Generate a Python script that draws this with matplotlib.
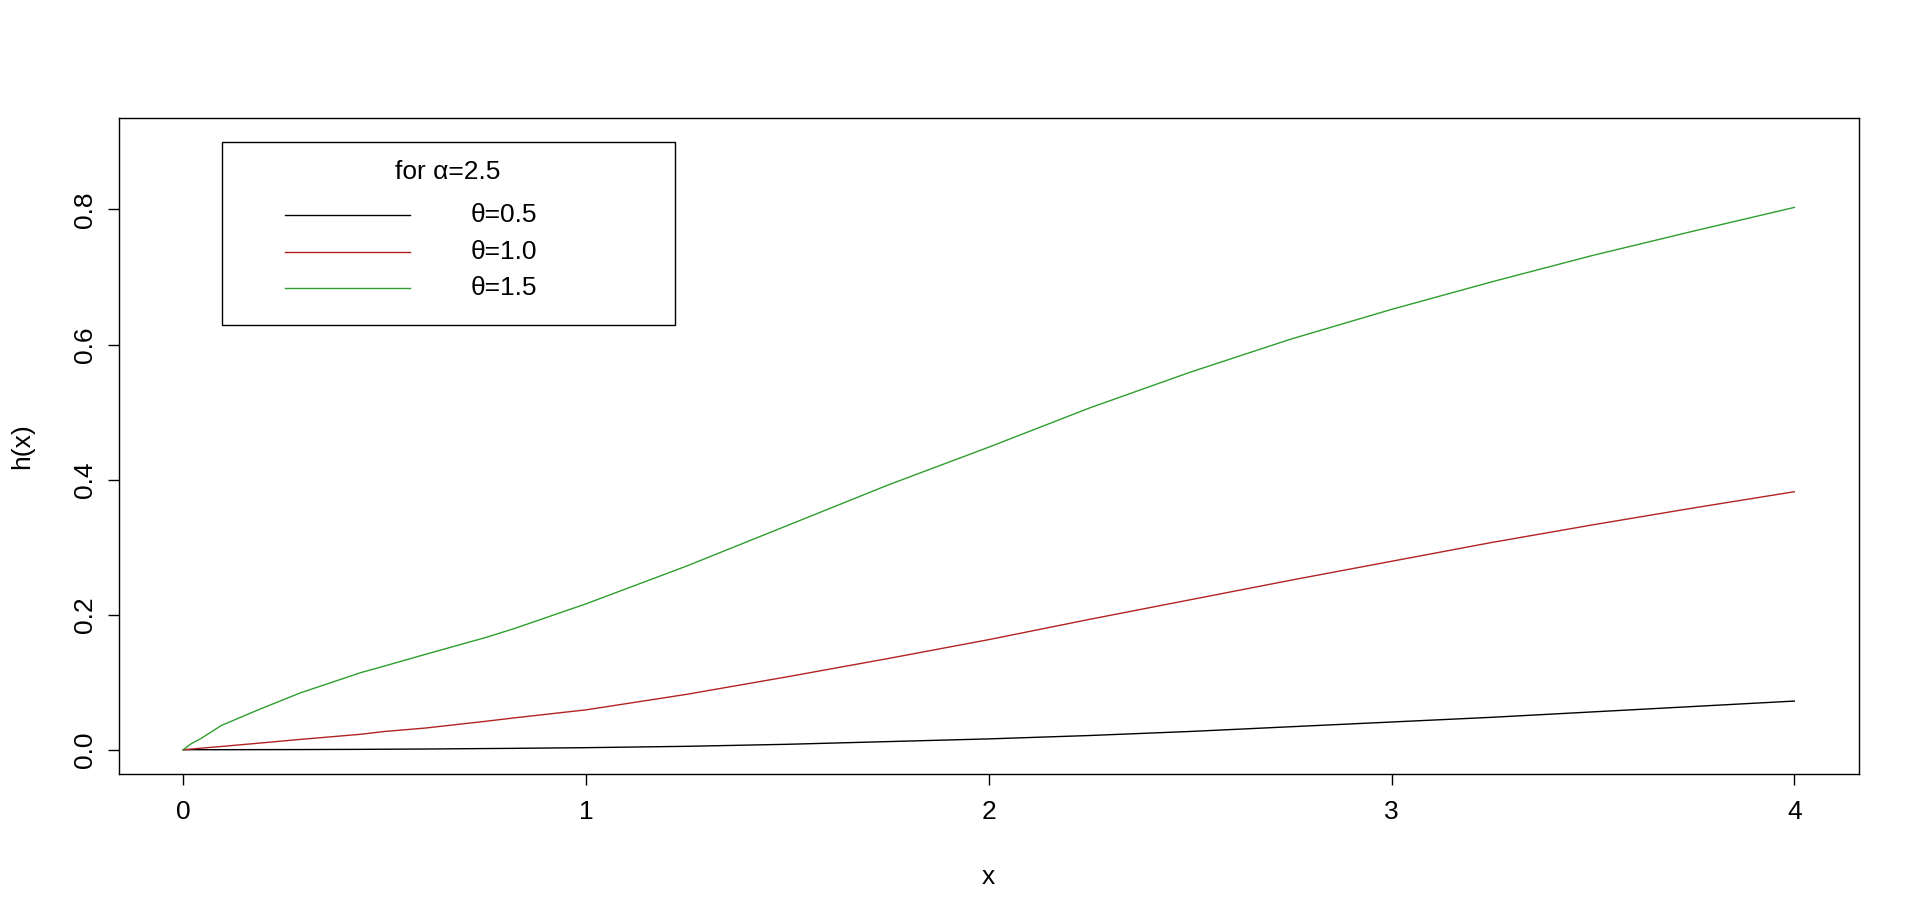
import matplotlib
matplotlib.use("Agg")
import matplotlib.pyplot as plt
from matplotlib.patches import Rectangle
from matplotlib.lines import Line2D

plt.rcParams['font.family'] = ['Liberation Sans', 'DejaVu Sans']

# values
x = [0, 0.02, 0.045, 0.095, 0.19, 0.29, 0.44, 0.5, 0.6, 0.75, 0.82, 1.0,
     1.25, 1.5, 1.75, 2.0, 2.25, 2.5, 2.75, 3.0, 3.25, 3.5, 3.75, 4.0]
h_theta05 = [0, 0, 0, 0, 0.0001, 0.0002, 0.0005, 0.0007, 0.001, 0.0017, 0.002, 0.003,
             0.005, 0.008, 0.012, 0.016, 0.021, 0.027, 0.034, 0.041, 0.048, 0.056, 0.064, 0.072]
h_theta10 = [0, 0.001, 0.0023, 0.0048, 0.0098, 0.0152, 0.0228, 0.027, 0.032, 0.042, 0.047, 0.059,
             0.082, 0.108, 0.135, 0.163, 0.193, 0.222, 0.251, 0.279, 0.307, 0.333, 0.358, 0.382]
h_theta15 = [0, 0.009, 0.017, 0.036, 0.060, 0.084, 0.114, 0.124, 0.141, 0.166, 0.179, 0.216,
             0.272, 0.332, 0.392, 0.448, 0.506, 0.559, 0.608, 0.652, 0.693, 0.732, 0.768, 0.803]

labels = ["θ=0.5", "θ=1.0", "θ=1.5"]
colors = ["black", "#B22222", "#2E9E2E"]
legend_title = "for α=2.5"
FS = 19

fig = plt.figure(figsize=(19.2, 9.21), dpi=100)
ax = fig.add_axes([0.0619, 0.1596, 0.9062, 0.7127])

for y, c in zip([h_theta05, h_theta10, h_theta15], colors):
    ax.plot(x, y, color=c, lw=1.0)

ax.set_xlim(-0.16, 4.16)
ax.set_ylim(-0.036, 0.936)
ax.set_xticks([0, 1, 2, 3, 4])
ax.set_yticks([0.0, 0.2, 0.4, 0.6, 0.8])
ax.tick_params(direction='out', length=8, width=1, labelsize=FS, color='black')
ax.tick_params(axis='x', pad=11)
ax.tick_params(axis='y', pad=8)
for lbl in ax.get_yticklabels():
    lbl.set_rotation(90)
    lbl.set_rotation_mode('anchor')
    lbl.set_ha('center')
    lbl.set_va('bottom')
for s in ax.spines.values():
    s.set_linewidth(1)

ax.set_xlabel("x", fontsize=FS, va='center')
ax.xaxis.set_label_coords(0.5, -0.157)
ax.set_ylabel("h(x)", fontsize=FS, va='center')
ax.yaxis.set_label_coords(-0.0556, 0.5)

# legend drawn like R's legend() box
ax.add_patch(Rectangle((0.0595, 0.684), 0.2602, 0.2784, transform=ax.transAxes,
                       fill=False, edgecolor='black', lw=1, zorder=5))
ax.text(0.1892, 0.9176, legend_title, transform=ax.transAxes, fontsize=FS,
        ha='center', va='center')
for yy, c, lab in zip([0.8512, 0.7948, 0.7404], colors, labels):
    ax.add_line(Line2D([0.0955, 0.1674], [yy, yy], transform=ax.transAxes,
                       color=c, lw=1.0))
    ax.text(0.2022, yy, lab, transform=ax.transAxes, fontsize=FS,
            ha='left', va='center')

fig.savefig("out.png", dpi=100)
